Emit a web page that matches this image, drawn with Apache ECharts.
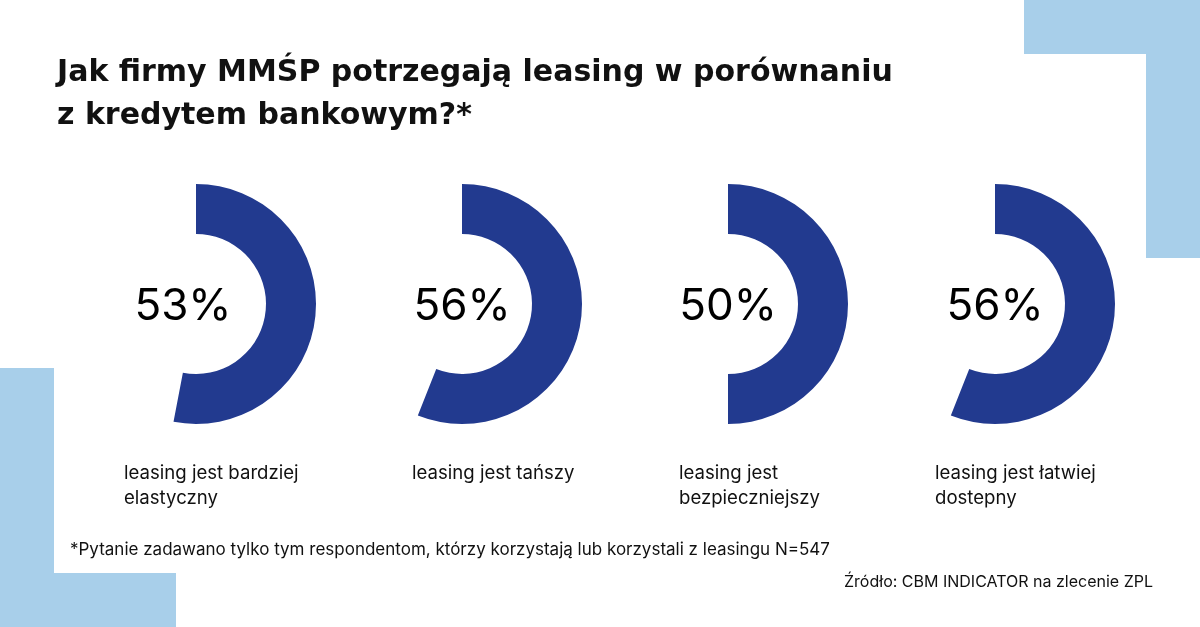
<!DOCTYPE html>
<html>
<head>
<meta charset="utf-8">
<script src="https://cdn.jsdelivr.net/npm/echarts@6/dist/echarts.min.js"></script>
<style>
    html, body {margin: 0; padding: 0; background: #fff;}
    #chart {width: 1200px; height: 627px;}
</style>
</head>
<body>
<div id="chart"></div>
<script>
// dane z wykresu
const categories = [
    'leasing jest bardziej\nelastyczny',
    'leasing jest tańszy',
    'leasing jest\nbezpieczniejszy',
    'leasing jest łatwiej\ndostepny'
];
const values = [53, 56, 50, 56];
const titleText = 'Jak firmy MMŚP potrzegają leasing w porównaniu\nz kredytem bankowym?*';
const footnote = '*Pytanie zadawano tylko tym respondentom, którzy korzystają lub korzystali z leasingu N=547';
const source = 'Źródło: CBM INDICATOR na zlecenie ZPL';

const centersX = [196, 462, 728, 995];
const centerY = 304;
const labelX = [124, 412, 679, 935];
const labelOffset = [[-13, 3], [0, 3], [0, 3], [0, 3]];

const font = 'Inter, "Noto Sans", sans-serif';
const titleFont = '"DejaVu Sans", Inter, sans-serif';
const darkBlue = '#223a8f';
const lightBlue = '#a8cfea';

const chart = echarts.init(document.getElementById('chart'));

const series = values.map((v, i) => ({
    type: 'pie',
    center: [centersX[i], centerY],
    radius: [70, 120],
    startAngle: 90,
    clockwise: true,
    silent: true,
    animation: false,
    labelLine: {show: false},
    emphasis: {disabled: true},
    data: [
        {
            value: v,
            itemStyle: {color: darkBlue},
            label: {
                show: true,
                position: 'center',
                formatter: '{c}%',
                fontFamily: font,
                fontSize: 44,
                fontWeight: 400,
                color: '#000',
                offset: labelOffset[i]
            }
        },
        {
            value: 100 - v,
            itemStyle: {color: 'transparent'},
            label: {show: false}
        }
    ]
}));

const graphics = [
    // dekoracje
    {type: 'rect', shape: {x: 1024, y: 0, width: 176, height: 54}, style: {fill: lightBlue}, silent: true},
    {type: 'rect', shape: {x: 1146, y: 0, width: 54, height: 258}, style: {fill: lightBlue}, silent: true},
    {type: 'rect', shape: {x: 0, y: 368, width: 54, height: 259}, style: {fill: lightBlue}, silent: true},
    {type: 'rect', shape: {x: 0, y: 573, width: 176, height: 54}, style: {fill: lightBlue}, silent: true},
    {
        type: 'text', left: 57, top: 52, silent: true,
        style: {text: titleText, font: 'bold 30px ' + titleFont, fill: '#111', lineHeight: 43}
    },
    {
        type: 'text', left: 70, top: 541, silent: true,
        style: {text: footnote, font: '17px ' + font, fill: '#111'}
    },
    {
        type: 'text', right: 47, top: 574, silent: true,
        style: {text: source, font: '16px ' + font, fill: '#111'}
    }
];

categories.forEach((c, i) => {
    graphics.push({
        type: 'text', left: labelX[i], top: 461, silent: true,
        style: {text: c, font: '18.6px ' + font, fill: '#111', lineHeight: 25}
    });
});

chart.setOption({
    backgroundColor: '#fff',
    animation: false,
    series: series,
    graphic: graphics
});
</script>
</body>
</html>
